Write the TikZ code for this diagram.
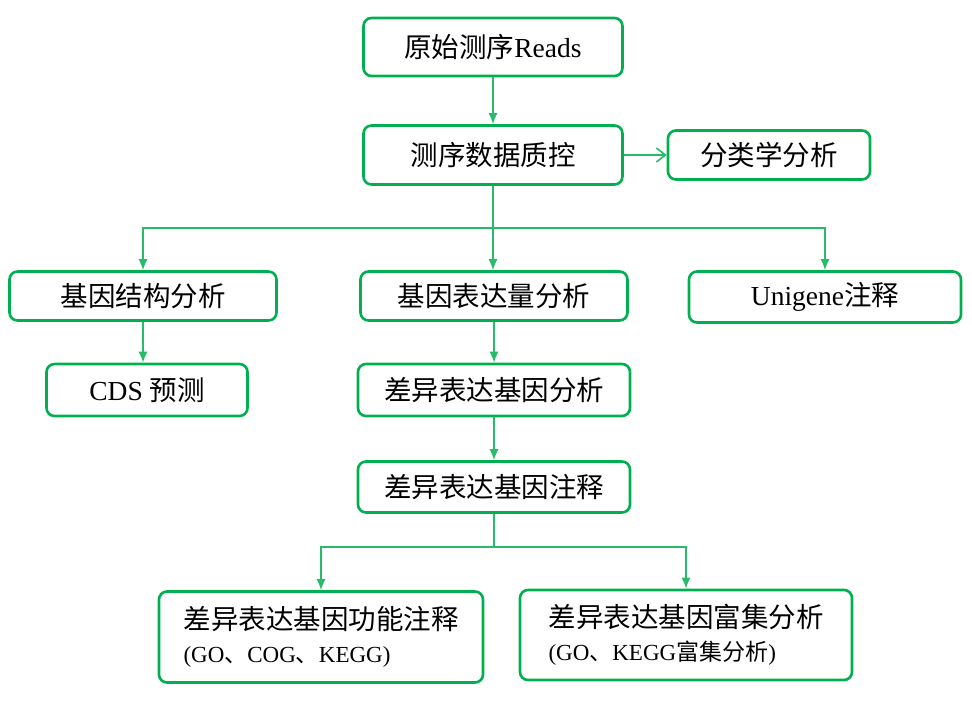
\documentclass[tikz,border=0pt]{standalone}
\usepackage{fontspec}
\setmainfont{Liberation Serif}
\newfontfamily\cjk{Noto Sans CJK SC}
\usetikzlibrary{arrows.meta}
\definecolor{flowgreen}{RGB}{0,176,80}
\tikzset{
  box/.style={draw=flowgreen, line width=2.6pt, rounded corners=8pt, fill=white,
    inner sep=0pt, font=\fontsize{27.5}{32}\selectfont},
  link/.style={draw=flowgreen!85!white, line width=1.6pt, -{Latex[length=11pt,width=9pt]}},
  openlink/.style={draw=flowgreen!85!white, line width=1.6pt, -{Straight Barb[length=9pt,width=14pt]}}
}
\begin{document}
\begin{tikzpicture}[x=1pt, y=-1pt]
\useasboundingbox (0,0) rectangle (972,701);
% boxes
\node[box, minimum width=259pt, minimum height=58pt] (raw) at (493,47) {{\cjk 原始测序}Reads};
\node[box, minimum width=259pt, minimum height=59pt] (qc) at (493,155) {\cjk 测序数据质控};
\node[box, minimum width=202pt, minimum height=49pt] (tax) at (769,155) {\cjk 分类学分析};
\node[box, minimum width=267pt, minimum height=49pt] (struct) at (143,296) {\cjk 基因结构分析};
\node[box, minimum width=267pt, minimum height=49pt] (expr) at (494,296) {\cjk 基因表达量分析};
\node[box, minimum width=272pt, minimum height=51pt] (unig) at (825,297) {Unigene{\cjk 注释}};
\node[box, minimum width=201pt, minimum height=52pt] (cds) at (147,390) {CDS {\cjk 预测}};
\node[box, minimum width=272pt, minimum height=52pt] (deg) at (494,390) {\cjk 差异表达基因分析};
\node[box, minimum width=272pt, minimum height=51pt] (degann) at (494,487) {\cjk 差异表达基因注释};
\node[box, minimum width=324pt, minimum height=91pt, align=left] (func) at (321,637)
  {{\cjk 差异表达基因功能注释}\\[1pt]{\fontsize{23}{27}\selectfont (GO{\cjk 、}COG{\cjk 、}KEGG)}};
\node[box, minimum width=332pt, minimum height=90pt, align=left] (enrich) at (686,635)
  {{\cjk 差异表达基因富集分析}\\[1pt]{\fontsize{23}{27}\selectfont (GO{\cjk 、}KEGG{\cjk 富集分析})}};
% connectors
\coordinate (split1) at (493,228);
\coordinate (split2) at (494,547);
\draw[link] (raw) -- (qc);
\draw[openlink] (qc) -- (tax);
\draw[draw=flowgreen!85!white, line width=1.6pt] (qc) -- (split1);
\draw[link] (split1) -| (struct);
\draw[link] (split1) -- (split1 |- expr.north);
\draw[link] (split1) -| (unig);
\draw[link] (struct) -- (struct |- cds.north);
\draw[link] (expr) -- (deg);
\draw[link] (deg) -- (degann);
\draw[draw=flowgreen!85!white, line width=1.6pt] (degann) -- (split2);
\draw[link] (split2) -| (func);
\draw[link] (split2) -| (enrich);
\end{tikzpicture}
\end{document}
